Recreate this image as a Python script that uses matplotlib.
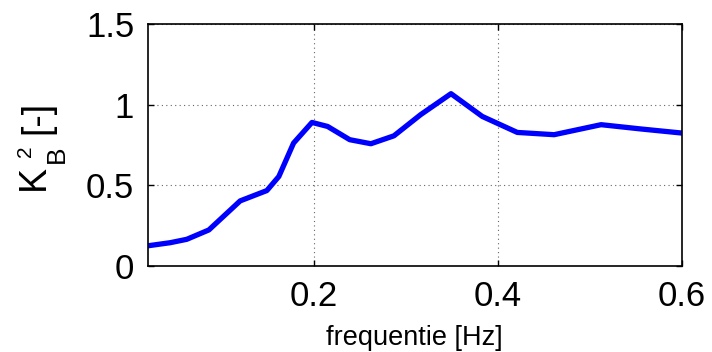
import numpy as np
import matplotlib
matplotlib.use('Agg')
import matplotlib.pyplot as plt
from matplotlib.transforms import IdentityTransform

plt.rcParams['font.family'] = ['Liberation Sans', 'DejaVu Sans']

# frequentie (Hz) en K_B^2
freq = [0.020, 0.044, 0.062, 0.086, 0.120, 0.149, 0.162, 0.178, 0.198, 0.215,
        0.239, 0.262, 0.287, 0.316, 0.349, 0.383, 0.421, 0.461, 0.512, 0.556, 0.600]
kb2 = [0.126, 0.145, 0.166, 0.224, 0.404, 0.468, 0.555, 0.762, 0.890, 0.865,
       0.783, 0.758, 0.807, 0.938, 1.068, 0.927, 0.828, 0.814, 0.876, 0.849, 0.824]

xticks = [0.2, 0.4, 0.6]
xticklabels = ['0.2', '0.4', '0.6']
yticks = [0, 0.5, 1, 1.5]
yticklabels = ['0', '0.5', '1', '1.5']

W, H = 712, 352
fig = plt.figure(figsize=(W / 100, H / 100), dpi=100)
ax = fig.add_axes([0.208, 0.244, 0.75, 0.688])

ax.plot(freq, kb2, color='#0000ff', linewidth=3.8, solid_joinstyle='round')

ax.set_xlim(0.02, 0.6)
ax.set_ylim(0, 1.5)
ax.set_xticks(xticks)
ax.set_xticklabels(xticklabels)
ax.set_yticks(yticks)
ax.set_yticklabels(yticklabels)
ax.tick_params(direction='in', length=4, width=1, labelsize=25, top=True, right=True, pad=10)
ax.grid(True, linestyle=(0, (1, 3)), color='#666666', linewidth=0.8)
for s in ax.spines.values():
    s.set_linewidth(1.2)

# labels in pixelcoordinaten (y van boven)
def ptext(x, y, s, size, rot=90):
    fig.text(x, H - y, s, fontsize=size, rotation=rot, ha='center', va='center',
             transform=IdentityTransform())

ptext(414, 338, 'frequentie [Hz]', 19.5, rot=0)

# y-label K_B^2 [-] opgebouwd uit losse stukken
ptext(34, 177.5, 'K', 27)
ptext(25, 151, '2', 15)
ptext(57, 154.5, 'B', 19)
ptext(37, 117.5, '[-]', 27)

plt.savefig('out.png', dpi=100)
